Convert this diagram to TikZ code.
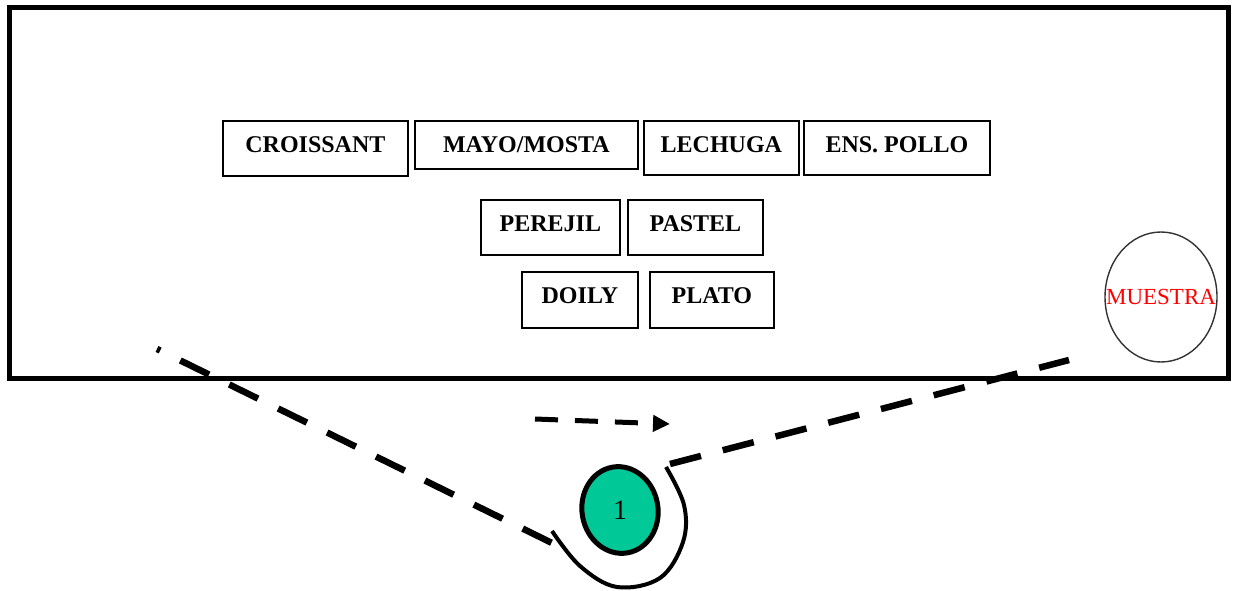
\documentclass[tikz,border=0pt]{standalone}
\usepackage{fontspec}
\setmainfont{Liberation Serif}
\usetikzlibrary{arrows.meta,shapes.geometric}
\definecolor{seatgreen}{RGB}{0,200,150}
\begin{document}
\begin{tikzpicture}[x=1pt,y=-1pt,
  item/.style={draw, line width=1.8pt, inner sep=0pt, anchor=north west,
    font=\fontsize{24}{28}\selectfont\bfseries, text height=32pt},
  route/.style={line width=6.5pt, dash pattern=on 32pt off 22.5pt},
  flow/.style={line width=5pt, dash pattern=on 23pt off 17pt,
    -{Triangle[length=17pt,width=16pt]}}]
\useasboundingbox (0,0) rectangle (1235,591);

% counter outline
\draw[line width=5pt] (9.5,7.5) rectangle (1228.5,378.5);

% ingredient stations
\node[item, minimum width=185pt, text depth=23pt] (croissant) at (222,120) {CROISSANT};
\node[item, minimum width=223pt, text depth=16pt] (mayo) at (414,120) {MAYO/MOSTA};
\node[item, minimum width=155pt, text depth=22pt] (lechuga) at (643,120) {LECHUGA};
\node[item, minimum width=186pt, text depth=22pt] (pollo) at (803,120) {ENS. POLLO};
\node[item, minimum width=139pt, text depth=23pt] (perejil) at (480,199) {PEREJIL};
\node[item, minimum width=135pt, text depth=23pt] (pastel) at (627,199) {PASTEL};
\node[item, minimum width=116pt, text depth=24pt] (doily) at (521,271) {DOILY};
\node[item, minimum width=124pt, text depth=24pt] (plato) at (649,271) {PLATO};

% sample
\node[draw=black!80, line width=1.4pt, ellipse, minimum width=112pt, minimum height=130pt,
  inner sep=0pt] (muestra) at (1161,297) {};
\node[text=red, font=\fontsize{23}{26}\selectfont] (muestratext) at (muestra.center) {MUESTRA};

% worker position
\node[draw, line width=5pt, fill=seatgreen, ellipse, rotate=10,
  minimum width=76pt, minimum height=87pt, inner sep=0pt] (worker) at (620,510) {};
\node[font=\fontsize{28}{30}\selectfont] (workerno) at (worker.center) {1};

% walking route
\coordinate (l0) at (157,349);
\coordinate (l1) at (552,543);
\coordinate (r0) at (670,464);
\coordinate (r1) at (1069,360);
\coordinate (a0) at (535,419);
\coordinate (a1) at (670,424);
\draw[route, dash phase=28.5pt] (l0) -- (l1);
\draw[route] (r0) -- (r1);
\draw[flow] (a0) -- (a1);

% turn around the worker
\draw[line width=4pt] plot[smooth, tension=0.6] coordinates
  {(552,531) (580,566) (617,587) (660,578) (683,542) (684,505) (666,467)};
\end{tikzpicture}
\end{document}
